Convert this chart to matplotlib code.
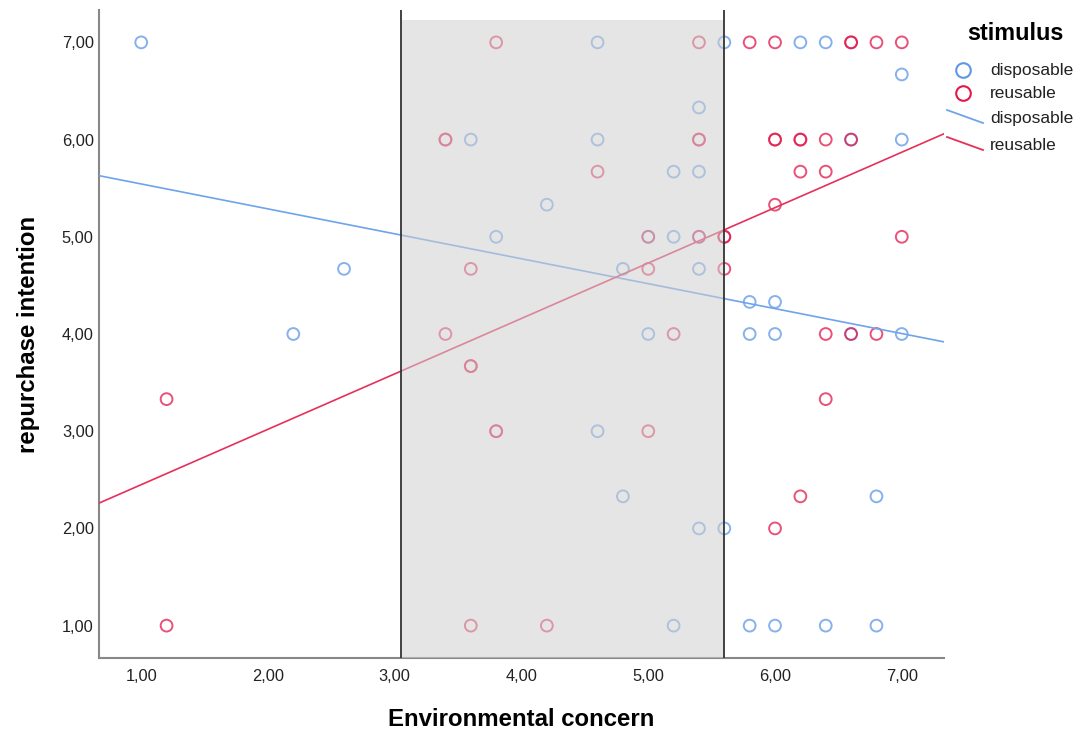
import matplotlib
matplotlib.use("Agg")
import matplotlib.pyplot as plt
import numpy as np
from matplotlib.lines import Line2D
from matplotlib.patches import Rectangle

plt.rcParams['font.family'] = ['Liberation Sans', 'DejaVu Sans']

# ---- data ----
disp_x = [1.0, 4.6, 5.6, 6.2, 6.4,
          7.0,
          5.4,
          3.6, 4.6, 6.6, 7.0,
          5.2, 5.4,
          4.2,
          3.8, 5.0, 5.2, 5.4,
          2.6, 4.8, 5.4,
          5.8, 6.0,
          2.2, 5.0, 5.8, 6.0, 6.6, 7.0,
          4.6,
          4.8, 6.8,
          5.4, 5.6,
          5.2, 5.8, 6.0, 6.4, 6.8]
disp_y = [7.0, 7.0, 7.0, 7.0, 7.0,
          6.67,
          6.33,
          6.0, 6.0, 6.0, 6.0,
          5.67, 5.67,
          5.33,
          5.0, 5.0, 5.0, 5.0,
          4.67, 4.67, 4.67,
          4.33, 4.33,
          4.0, 4.0, 4.0, 4.0, 4.0, 4.0,
          3.0,
          2.33, 2.33,
          2.0, 2.0,
          1.0, 1.0, 1.0, 1.0, 1.0]

reus_x = [3.8, 5.4, 5.8, 6.0, 6.6, 6.6, 6.8, 7.0,
          3.4, 3.4, 5.4, 5.4, 6.0, 6.0, 6.2, 6.2, 6.4, 6.6,
          4.6, 6.2, 6.4,
          6.0,
          5.0, 5.4, 5.6, 5.6, 7.0,
          3.6, 5.0, 5.6,
          3.4, 5.2, 6.4, 6.6, 6.8,
          3.6, 3.6,
          1.2, 6.4,
          3.8, 3.8, 5.0,
          6.2,
          6.0,
          1.2, 3.6, 4.2]
reus_y = [7.0, 7.0, 7.0, 7.0, 7.0, 7.0, 7.0, 7.0,
          6.0, 6.0, 6.0, 6.0, 6.0, 6.0, 6.0, 6.0, 6.0, 6.0,
          5.67, 5.67, 5.67,
          5.33,
          5.0, 5.0, 5.0, 5.0, 5.0,
          4.67, 4.67, 4.67,
          4.0, 4.0, 4.0, 4.0, 4.0,
          3.67, 3.67,
          3.33, 3.33,
          3.0, 3.0, 3.0,
          2.33,
          2.0,
          1.0, 1.0, 1.0]

# fit lines (intercept, slope)
disp_fit = (5.80, -0.2565)
reus_fit = (1.88, 0.570)

# Johnson-Neyman region
jn_low, jn_high = 3.05, 5.60

x_ticks = [1, 2, 3, 4, 5, 6, 7]
y_ticks = [1, 2, 3, 4, 5, 6, 7]
xlim = (0.667, 7.333)
ylim = (0.667, 7.333)

group_labels = ['disposable', 'reusable']
legend_title = 'stimulus'

blue = '#5e97e6'
red = '#e2184b'
blue_line = '#6fa3ec'
red_line = '#e6305a'

W, H = 1089, 734
fig = plt.figure(figsize=(W / 100, H / 100), dpi=100)
ax_l, ax_r, ax_t, ax_b = 99, 944, 10, 658
ax = fig.add_axes([ax_l / W, 1 - ax_b / H, (ax_r - ax_l) / W, (ax_b - ax_t) / H])
ax.set_xlim(*xlim)
ax.set_ylim(*ylim)

ax.scatter(disp_x, disp_y, s=72, facecolors='none', edgecolors=blue,
           linewidths=1.4, alpha=0.75, zorder=3)
ax.scatter(reus_x, reus_y, s=72, facecolors='none', edgecolors=red,
           linewidths=1.4, alpha=0.75, zorder=3)

xs = np.array(xlim)
ax.plot(xs, disp_fit[0] + disp_fit[1] * xs, color=blue_line, lw=1.2, zorder=4)
ax.plot(xs, reus_fit[0] + reus_fit[1] * xs, color=red_line, lw=1.2, zorder=4)

ax.add_patch(Rectangle((jn_low, ylim[0]), jn_high - jn_low, 7.23 - ylim[0],
                       facecolor='#d0d0d0', alpha=0.55, edgecolor='none', zorder=5))
ax.axvline(jn_low, color='#333333', lw=1.3, zorder=6)
ax.axvline(jn_high, color='#333333', lw=1.3, zorder=6)

for s in ['top', 'right']:
    ax.spines[s].set_visible(False)
for s in ['left', 'bottom']:
    ax.spines[s].set_color('#888888')
    ax.spines[s].set_linewidth(1.5)

ax.set_xticks(x_ticks)
ax.set_yticks(y_ticks)
ax.set_xticklabels([f"{v:.2f}".replace('.', ',') for v in x_ticks], fontsize=11.8)
ax.set_yticklabels([f"{v:.2f}".replace('.', ',') for v in y_ticks], fontsize=11.8)
ax.tick_params(axis='x', length=0, pad=8, colors='#222222')
ax.tick_params(axis='y', length=0, pad=3.8, colors='#222222')

ax.set_xlabel('Environmental concern', fontsize=17.3, fontweight='bold', va='center')
ax.xaxis.set_label_coords(0.5, -(719 - ax_b) / (ax_b - ax_t))
ax.set_ylabel('repurchase intention', fontsize=17.3, fontweight='bold',
              va='center', ha='center')
ax.yaxis.set_label_coords(-(ax_l - 29) / (ax_r - ax_l), 0.5)

# ---- legend (placed manually in figure pixels) ----
def fx(px):
    return px / W


def fy(py):
    return 1 - py / H


fig.text(fx(1015), fy(33), legend_title, fontsize=16.8, fontweight='bold',
         ha='center', va='center')
rows = [70, 93, 118, 145]
text_x = 990
for py, col in zip(rows[:2], [blue, red]):
    fig.add_artist(Line2D([fx(963)], [fy(py)], marker='o', ls='none',
                          markerfacecolor='none', markeredgecolor=col,
                          markersize=10.5, markeredgewidth=1.5,
                          transform=fig.transFigure))
for py, col in zip(rows[2:], [blue_line, red_line]):
    fig.add_artist(Line2D([fx(947), fx(983)], [fy(py - 8), fy(py + 5)],
                          color=col, lw=1.3, transform=fig.transFigure))
for py, lab in zip(rows, group_labels + group_labels):
    fig.text(fx(text_x), fy(py), lab, fontsize=12.5, ha='left', va='center',
             color='#222222')

fig.savefig('out.png', dpi=100)
